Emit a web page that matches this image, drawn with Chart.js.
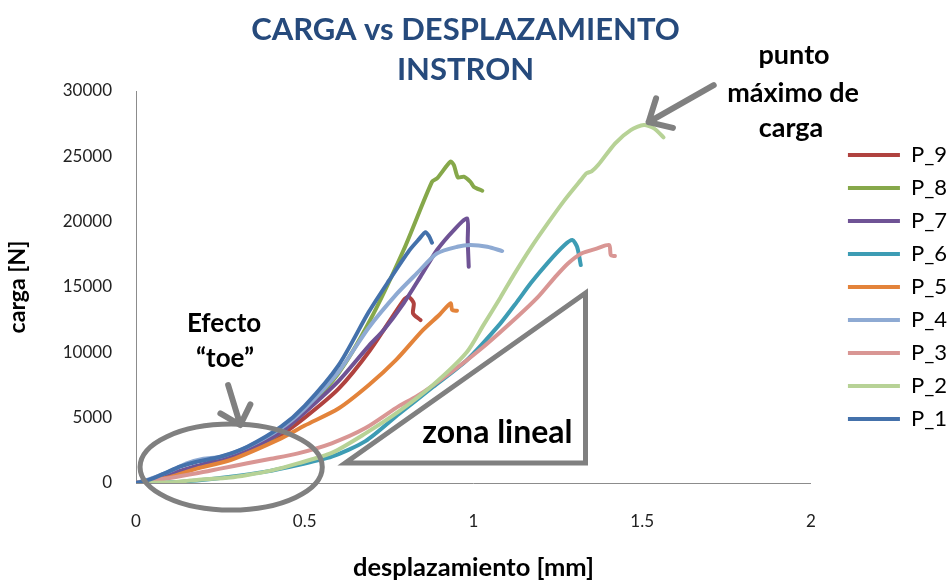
<!DOCTYPE html>
<html>
<head>
<meta charset="utf-8">
<script src="https://cdn.jsdelivr.net/npm/chart.js@4.4.0/dist/chart.umd.min.js"></script>
<style>
  html, body { margin: 0; padding: 0; background: #fff; }
</style>
</head>
<body>
<canvas id="chart" width="948" height="581"></canvas>
<script>
// series names, legend shows them reversed (P_9 on top)
const seriesNames = ['P_1', 'P_2', 'P_3', 'P_4', 'P_5', 'P_6', 'P_7', 'P_8', 'P_9'];
const seriesColors = ['#4471ab', '#b7d296', '#d99694', '#8eaad3', '#e3833a', '#3d9cb4', '#6f5395', '#86a84a', '#b0423f'];

// desplazamiento [mm] / carga [N]
const dispP1 = [0, 0.04, 0.09, 0.13, 0.18, 0.25, 0.33, 0.43, 0.5, 0.6, 0.69, 0.75, 0.81, 0.84, 0.858, 0.868, 0.877];
const cargaP1 = [0, 250, 800, 1250, 1630, 2010, 2780, 4310, 5900, 9000, 13100, 15500, 17800, 18700, 19200, 18900, 18400];

const dispP2 = [0, 0.1, 0.18, 0.28, 0.33, 0.4, 0.48, 0.58, 0.68, 0.78, 0.88, 0.98, 1.03, 1.08, 1.12, 1.17, 1.22, 1.27, 1.318, 1.335, 1.35, 1.37, 1.42, 1.466, 1.505, 1.535, 1.563];
const cargaP2 = [0, 50, 230, 420, 610, 950, 1500, 2300, 3800, 5500, 7500, 10000, 12100, 14200, 15950, 18000, 19870, 21650, 23180, 23700, 23850, 24350, 26000, 27010, 27390, 27140, 26450];

const dispP3 = [0, 0.1, 0.18, 0.25, 0.33, 0.4, 0.48, 0.58, 0.68, 0.78, 0.83, 0.93, 1.03, 1.13, 1.19, 1.24, 1.28, 1.32, 1.367, 1.402, 1.407, 1.419];
const cargaP3 = [0, 380, 740, 1100, 1510, 1850, 2270, 3040, 4200, 5900, 6600, 8400, 10430, 12720, 14200, 15700, 16800, 17570, 17950, 18210, 17440, 17370];

const dispP4 = [0, 0.04, 0.1, 0.15, 0.2, 0.25, 0.33, 0.43, 0.5, 0.6, 0.69, 0.774, 0.832, 0.892, 0.952, 0.991, 1.041, 1.085];
const cargaP4 = [0, 300, 900, 1500, 1850, 2000, 2750, 4200, 5700, 8500, 11900, 14510, 16040, 17570, 18080, 18210, 18080, 17750];

const dispP5 = [0, 0.1, 0.18, 0.28, 0.43, 0.5, 0.6, 0.69, 0.77, 0.85, 0.9, 0.932, 0.937, 0.951];
const cargaP5 = [0, 450, 1100, 1760, 3420, 4400, 5700, 7500, 9400, 11700, 12900, 13750, 13240, 13180];

const dispP6 = [0, 0.1, 0.18, 0.28, 0.38, 0.48, 0.58, 0.68, 0.78, 0.88, 0.98, 1.08, 1.13, 1.17, 1.22, 1.27, 1.293, 1.307, 1.318];
const cargaP6 = [0, 50, 200, 480, 850, 1380, 2010, 3200, 5300, 7350, 9400, 12220, 13900, 15300, 16850, 18210, 18590, 18080, 16680];

const dispP7 = [0, 0.05, 0.1, 0.18, 0.25, 0.33, 0.43, 0.5, 0.6, 0.69, 0.734, 0.793, 0.843, 0.892, 0.942, 0.981, 0.983, 0.986];
const cargaP7 = [0, 300, 700, 1300, 1800, 2500, 3900, 5400, 7800, 10500, 11710, 13750, 15790, 17830, 19360, 20250, 18500, 16550];

const dispP8 = [0, 0.05, 0.1, 0.18, 0.25, 0.33, 0.43, 0.5, 0.6, 0.694, 0.793, 0.877, 0.892, 0.932, 0.942, 0.954, 0.971, 0.991, 1.001, 1.026];
const cargaP8 = [0, 250, 650, 1250, 1750, 2450, 3900, 5500, 8400, 12470, 17830, 23050, 23310, 24590, 24330, 23390, 23440, 23050, 22670, 22370];

const dispP9 = [0, 0.05, 0.1, 0.18, 0.25, 0.33, 0.43, 0.5, 0.6, 0.694, 0.793, 0.808, 0.823, 0.821, 0.843];
const cargaP9 = [0, 300, 650, 1250, 1750, 2450, 3700, 5000, 7200, 10180, 14000, 14250, 13750, 12980, 12470];

const xTicks = [0, 0.5, 1, 1.5, 2];
const yTicks = [0, 5000, 10000, 15000, 20000, 25000, 30000];

const allDisp = [dispP1, dispP2, dispP3, dispP4, dispP5, dispP6, dispP7, dispP8, dispP9];
const allCarga = [cargaP1, cargaP2, cargaP3, cargaP4, cargaP5, cargaP6, cargaP7, cargaP8, cargaP9];

const boldFont = 'Lato';
const gray = '#808080';

// drawing helpers for the notes on top of the plot
function arrow(ctx, x1, y1, x2, y2, head) {
    const a = Math.atan2(y2 - y1, x2 - x1);
    ctx.beginPath();
    ctx.moveTo(x1, y1);
    ctx.lineTo(x2, y2);
    ctx.moveTo(x2 - head * Math.cos(a - 0.75), y2 - head * Math.sin(a - 0.75));
    ctx.lineTo(x2, y2);
    ctx.lineTo(x2 - head * Math.cos(a + 0.75), y2 - head * Math.sin(a + 0.75));
    ctx.stroke();
}

const notesPlugin = {
    id: 'notes',
    afterDraw(chart) {
        const ctx = chart.ctx;
        const xs = chart.scales.x, ys = chart.scales.y;
        const px = v => xs.getPixelForValue(v);
        const py = v => ys.getPixelForValue(v);
        ctx.save();
        ctx.strokeStyle = gray;
        ctx.lineCap = 'round';
        ctx.lineJoin = 'round';

        // "toe" ellipse
        ctx.lineWidth = 5;
        ctx.beginPath();
        ctx.ellipse(px(0.282), py(1220), px(0.27) - px(0), py(0) - py(3290), 0, 0, Math.PI * 2);
        ctx.stroke();

        // linear zone triangle
        ctx.lineJoin = 'miter';
        ctx.beginPath();
        ctx.moveTo(px(0.62), py(1530));
        ctx.lineTo(px(1.332), py(1530));
        ctx.lineTo(px(1.332), py(14540));
        ctx.closePath();
        ctx.stroke();

        // arrows
        ctx.lineWidth = 6;
        ctx.lineJoin = 'round';
        arrow(ctx, px(0.273), py(7500), px(0.309), py(4440), 23);
        arrow(ctx, px(1.712), py(30450), px(1.519), py(27620), 25);

        ctx.fillStyle = '#000';
        ctx.textAlign = 'center';
        ctx.textBaseline = 'middle';
        ctx.font = 'bold 26px ' + boldFont;
        ctx.fillText('Efecto', px(0.261), py(12200));
        ctx.fillText('\u201Ctoe\u201D', px(0.264), py(9550));
        ctx.font = 'bold 27px ' + boldFont;
        ctx.fillText('punto', px(1.95), py(32750));
        ctx.fillText('m\u00E1ximo de', px(1.947), py(29840));
        ctx.fillText('carga', px(1.941), py(27160));
        ctx.font = 'bold 32px ' + boldFont;
        ctx.fillText('zona lineal', px(1.071), py(3830));
        ctx.restore();
    }
};

// the legend sits a bit away from the plot in the original
const legendShift = {
    id: 'legendShift',
    afterLayout(chart) {
        chart.legend.left += 26;
        chart.legend.right += 26;
    }
};

const datasets = seriesNames.map((name, i) => ({
    label: name,
    data: allDisp[i].map((d, j) => ({ x: d, y: allCarga[i][j] })),
    borderColor: seriesColors[i],
    backgroundColor: seriesColors[i],
    borderWidth: 4,
    borderCapStyle: 'round',
    borderJoinStyle: 'round',
    pointRadius: 0,
    tension: 0.25,
    showLine: true
}));

new Chart(document.getElementById('chart'), {
    type: 'scatter',
    data: { datasets },
    plugins: [notesPlugin, legendShift],
    options: {
        responsive: false,
        animation: false,
        layout: { padding: { left: 0, right: 17, top: 0, bottom: 0 } },
        plugins: {
            title: {
                display: true,
                text: ['CARGA vs DESPLAZAMIENTO', 'INSTRON'],
                color: '#264a7c',
                font: { family: boldFont, size: 31, weight: 'bold', lineHeight: 40 / 31 },
                padding: { top: 10, bottom: 1 }
            },
            legend: {
                position: 'right',
                reverse: true,
                fullSize: false,
                labels: {
                    color: '#000',
                    font: { family: 'Lato', size: 22 },
                    usePointStyle: true,
                    pointStyle: 'line',
                    pointStyleWidth: 52,
                    boxHeight: 22,
                    padding: 11
                }
            },
            tooltip: { enabled: false }
        },
        scales: {
            x: {
                type: 'linear',
                min: 0,
                max: 2,
                afterBuildTicks: s => { s.ticks = xTicks.map(v => ({ value: v })); },
                afterFit: s => { s.height = 98; },
                grid: { display: false },
                border: { display: true, color: '#8c8c8c', width: 1 },
                ticks: { color: '#222', font: { family: 'Lato', size: 17 }, padding: 20, callback: v => String(v) },
                title: {
                    display: true,
                    text: 'desplazamiento [mm]',
                    color: '#000',
                    font: { family: boldFont, size: 25.5, weight: 'bold', lineHeight: 1.0 },
                    padding: { top: 0, bottom: 0 }
                }
            },
            y: {
                min: 0,
                max: 30000,
                afterBuildTicks: s => { s.ticks = yTicks.map(v => ({ value: v })); },
                afterFit: s => { s.width = 136; },
                grid: { display: false },
                border: { display: true, color: '#8c8c8c', width: 1 },
                ticks: { color: '#222', font: { family: 'Lato', size: 17 }, padding: 16, callback: v => String(v) },
                title: {
                    display: true,
                    text: 'carga [N]',
                    color: '#000',
                    font: { family: boldFont, size: 23, weight: 'bold', lineHeight: 1.05 },
                    padding: { top: 6, bottom: 0 }
                }
            }
        }
    }
});
</script>
</body>
</html>
